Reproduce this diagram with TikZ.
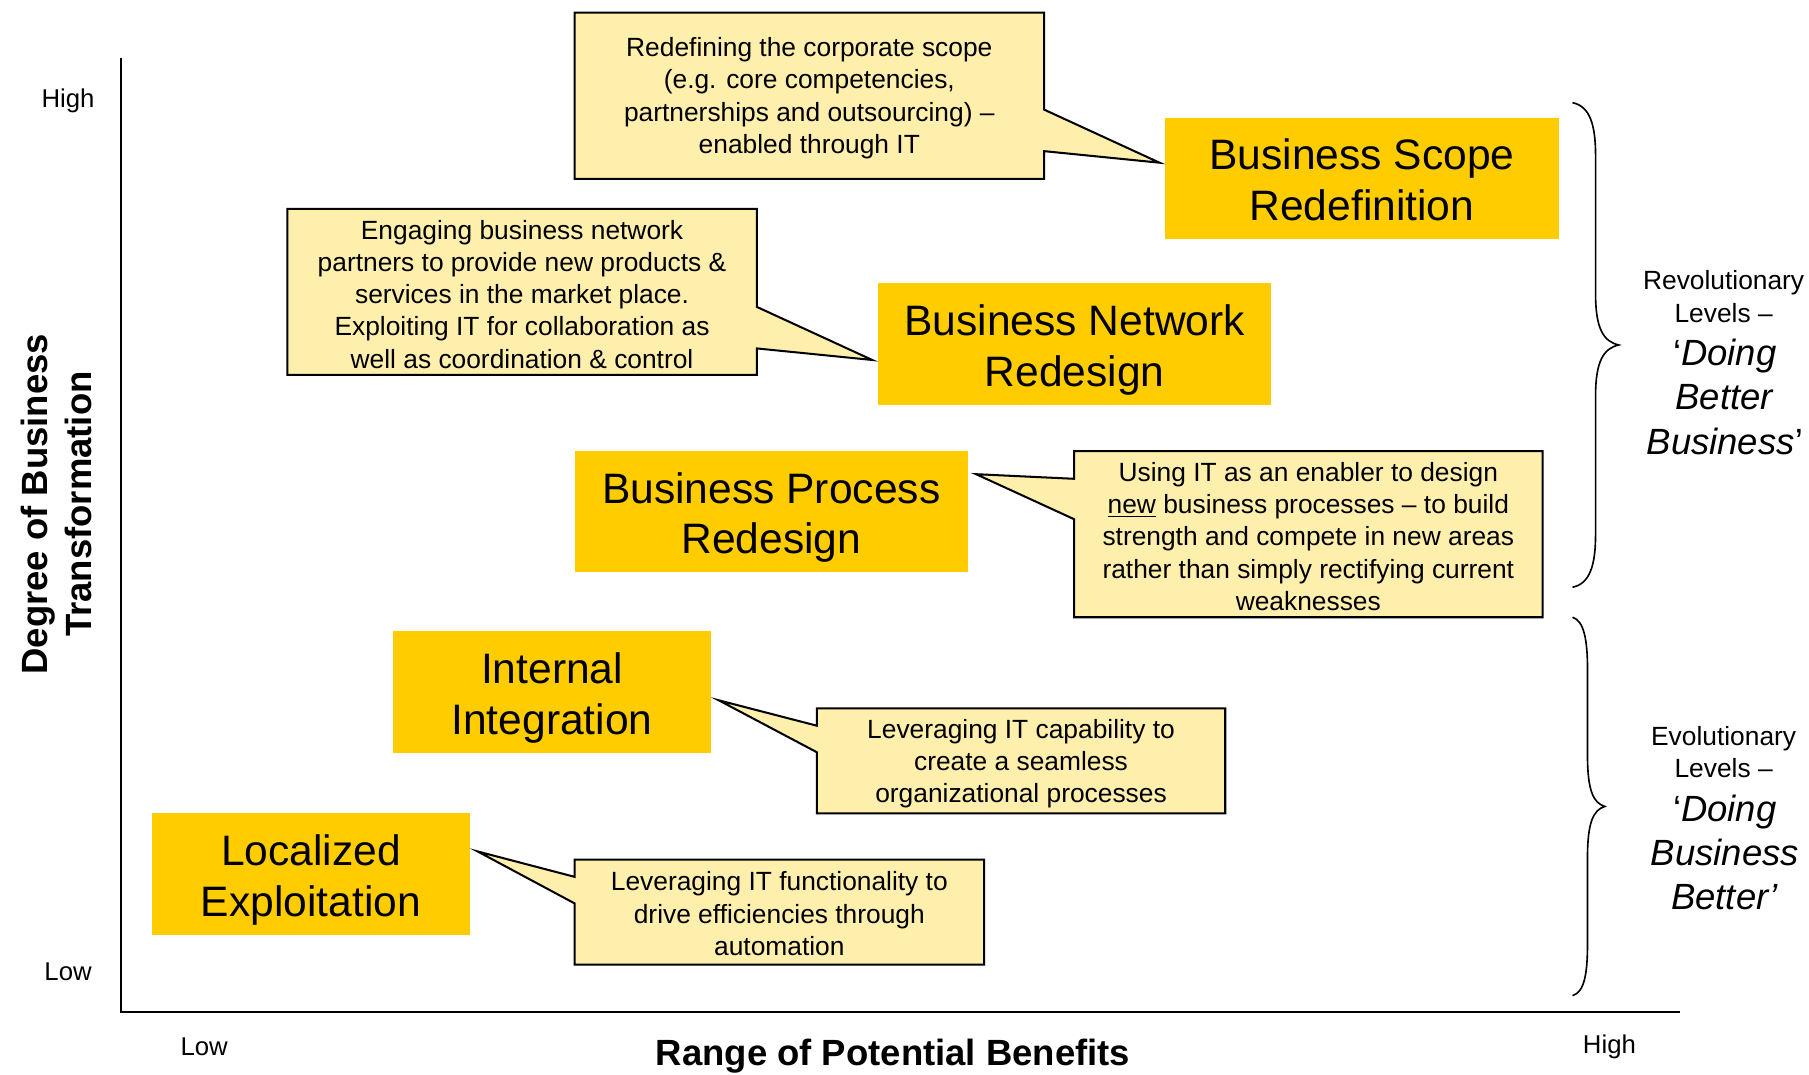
\documentclass[tikz,border=0pt]{standalone}
\usepackage{fontspec}
\setmainfont{Liberation Sans}
\definecolor{boxyellow}{HTML}{FFCC00}
\definecolor{calloutfill}{HTML}{FFEFAD}
\newcommand{\tallstrut}{\rule{0pt}{21pt}}
\newcommand{\midstrut}{\rule{0pt}{17pt}}
\begin{document}
\begin{tikzpicture}[x=0.02cm,y=-0.02cm,
  ybox/.style={fill=boxyellow, inner sep=0pt, align=center, font=\fontsize{21}{25}\selectfont},
  callout/.style={draw=black, fill=calloutfill, line width=1pt, line join=miter},
  ctext/.style={align=center, inner sep=0pt, font=\fontsize{13}{15.9}\selectfont},
  ticklabel/.style={inner sep=0pt, font=\fontsize{12.7}{15}\selectfont},
  axistitle/.style={inner sep=0pt, align=center, font=\fontsize{18}{21.5}\selectfont\bfseries},
  axisline/.style={line width=1.1pt},
  bracepath/.style={line width=0.8pt},
  sidesmall/.style={inner sep=0pt, align=center, font=\fontsize{13}{15.9}\selectfont},
  sidebig/.style={inner sep=0pt, align=center, font=\fontsize{18}{21.8}\selectfont}
]
\useasboundingbox (0,0) rectangle (1568,931);

% axes
\coordinate (ytop) at (105,50);
\coordinate (origin) at (105,877);
\coordinate (xend) at (1456,877);
\draw[axisline] (ytop) -- (origin) -- (xend);

\node[ticklabel] (yhigh) at (59,87) {High};
\node[ticklabel] (ylow) at (59,842) {Low};
\node[ticklabel] (xlow) at (177,907) {Low};
\node[ticklabel] (xhigh) at (1395,907) {High};
\node[axistitle] (xtitle) at (774,915) {Range of Potential Benefits};
\node[axistitle, rotate=90] (ytitle) at (49,437) {Degree of Business\\Transformation};

% yellow level boxes
\node[ybox, minimum width=6.82cm, minimum height=2.10cm] (bs) at (1180.5,154.5) {\midstrut Business Scope\\Redefinition};
\node[ybox, minimum width=6.82cm, minimum height=2.12cm] (bn) at (931.5,298) {\tallstrut Business Network\\Redesign};
\node[ybox, minimum width=6.82cm, minimum height=2.10cm] (bp) at (668.5,443.5) {\tallstrut Business Process\\Redesign};
\node[ybox, minimum width=5.50cm, minimum height=2.12cm] (ii) at (478.5,600) {\tallstrut Internal\\Integration};
\node[ybox, minimum width=5.50cm, minimum height=2.10cm] (le) at (269.5,757.5) {\tallstrut Localized\\Exploitation};

% callout tips
\coordinate (tA) at (1005,141);
\coordinate (tB) at (756,312);
\coordinate (tC) at (846,411);
\coordinate (tD) at (623,607);
\coordinate (tE) at (414,738);

% callouts
\draw[callout] (498,11) -- (905,11) -- (905,95) -- (tA) -- (905,131) -- (905,155) -- (498,155) -- cycle;
\node[ctext] (cA) at (701.5,85) {Redefining the corporate scope\\(e.g. core competencies,\\partnerships and outsourcing) –\\enabled through IT};

\draw[callout] (249,181) -- (656,181) -- (656,266) -- (tB) -- (656,302) -- (656,325) -- (249,325) -- cycle;
\node[ctext] (cB) at (452.5,255) {Engaging business network\\partners to provide new products \&\\services in the market place.\\Exploiting IT for collaboration as\\well as coordination \& control};

\draw[callout] (931,391) -- (1337,391) -- (1337,535) -- (931,535) -- (931,450) -- (tC) -- (931,415) -- cycle;
\node[ctext] (cC) at (1134,465) {Using IT as an enabler to design\\\underline{new} business processes – to build\\strength and compete in new areas\\rather than simply rectifying current\\weaknesses};

\draw[callout] (708,614) -- (1062,614) -- (1062,705) -- (708,705) -- (708,652) -- (tD) -- (708,629) -- cycle;
\node[ctext] (cD) at (885,662) {Leveraging IT capability to\\create a seamless\\organizational processes};

\draw[callout] (498,745) -- (853,745) -- (853,836) -- (498,836) -- (498,783) -- (tE) -- (498,760) -- cycle;
\node[ctext] (cE) at (675.5,792) {Leveraging IT functionality to\\drive efficiencies through\\automation};

% braces
\draw[bracepath] (1363,89) .. controls (1378,92) and (1383,108) .. (1383,135)
  -- (1383,255) .. controls (1383,285) and (1390,296) .. (1403,299)
  .. controls (1390,302) and (1383,313) .. (1383,343)
  -- (1383,463) .. controls (1383,490) and (1378,506) .. (1363,509);
\draw[bracepath] (1363,535) .. controls (1373,538) and (1376,555) .. (1376,580)
  -- (1376,655) .. controls (1376,685) and (1381,696) .. (1391,699)
  .. controls (1381,702) and (1376,713) .. (1376,743)
  -- (1376,818) .. controls (1376,845) and (1373,860) .. (1363,863);

% side labels
\node[sidesmall] (revA) at (1494,257) {Revolutionary\\Levels –};
\node[sidebig] (revB) at (1495,344) {‘\textit{Doing}\\\textit{Better}\\\textit{Business}’};
\node[sidesmall] (evoA) at (1494,652) {Evolutionary\\Levels –};
\node[sidebig] (evoB) at (1495,739) {‘\textit{Doing}\\\textit{Business}\\\textit{Better’}};
\end{tikzpicture}
\end{document}
